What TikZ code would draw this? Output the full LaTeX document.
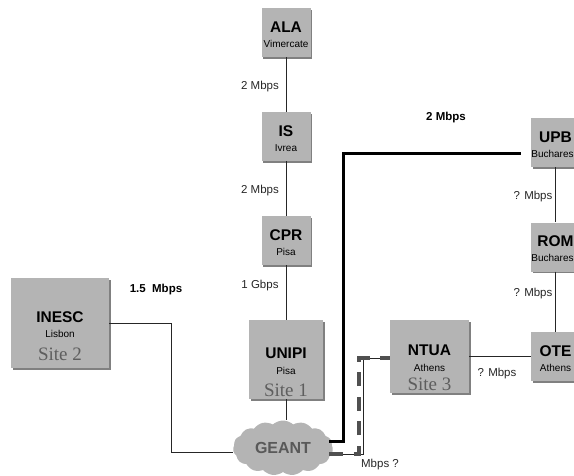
\documentclass[tikz,border=0pt]{standalone}
\usepackage{fontspec}
\setmainfont{Liberation Sans}
\newfontfamily\sitefont{Liberation Serif}
\usetikzlibrary{positioning,shadows,shapes.symbols,calc}
\definecolor{siteF}{HTML}{B4B4B4}
\definecolor{siteS}{HTML}{808080}
\definecolor{siteT}{HTML}{5E5E5E}
\definecolor{dashG}{HTML}{505050}
\tikzset{
 box/.style={fill=siteF, align=center, inner sep=0pt, text=black,
             drop shadow={opacity=1, fill=siteS, shadow xshift=1.5pt, shadow yshift=-1.5pt}},
 small/.style={box, minimum width=49pt, minimum height=49pt},
 big/.style={box, minimum width=75pt, minimum height=75pt},
 sitelbl/.style={inner sep=0pt, text=siteT, font=\sitefont\fontsize{19}{19}\selectfont},
 rate/.style={font=\fontsize{11.5}{13}\selectfont, inner sep=0pt, text=black!85},
 ratebold/.style={font=\fontsize{11.5}{13}\bfseries\selectfont, inner sep=0pt},
 lin/.style={line width=0.8pt, draw=black!85},
 thickline/.style={line width=3pt, draw=black},
 dashline/.style={line width=4pt, draw=dashG, dash pattern=on 14pt off 10.5pt},
}
\newcommand{\ttl}[1]{{\rule{0pt}{15pt}\fontsize{15.5}{17}\bfseries\selectfont #1}}
\newcommand{\plc}[1]{{\fontsize{10}{11}\selectfont #1}}
\begin{document}
\begin{tikzpicture}[x=1pt,y=-1pt]
\useasboundingbox (0,0) rectangle (574,475);
\clip (0,0) rectangle (574,475);
% backbone chain
\node[small] (ala) at (286,32.5) {\ttl{ALA}\\[3pt]\plc{Vimercate}};
\node[small] (is) at (286,136.5) {\ttl{IS}\\[3pt]\plc{Ivrea}};
\node[small] (cpr) at (286,240.5) {\ttl{CPR}\\[3pt]\plc{Pisa}};
\node[big, minimum width=74pt, minimum height=79pt] (unipi) at (286,359.5)
 {\ttl{UNIPI}\\[4pt]\plc{Pisa}};
\node[sitelbl, above=2.5pt of unipi.south] (site1) {Site 1};
% sites
\node[big, minimum width=98pt, minimum height=90pt] (inesc) at (60,323)
 {\ttl{INESC}\\[3pt]\plc{Lisbon}};
\node[sitelbl, above=7pt of inesc.south] (site2) {Site 2};
\node[big, minimum width=79pt, minimum height=73pt] (ntua) at (429.5,356.5)
 {\ttl{NTUA}\\[4pt]\plc{Athens}};
\node[sitelbl, above=2.5pt of ntua.south] (site3) {Site 3};
% right hand chain
\node[small] (upb) at (555.5,142.5) {\ttl{UPB}\\[3pt]\plc{Buchares\hspace*{6pt}}};
\node[small] (rom) at (555.5,247) {\ttl{ROM}\\[3pt]\plc{Buchares\hspace*{6pt}}};
\node[small] (ote) at (555.5,356.5) {\ttl{OTE}\\[3pt]\plc{Athens}};
% cloud
\node[cloud, cloud puffs=15, cloud puff arc=85, aspect=2.1, fill=siteF, inner sep=0pt,
 minimum width=100pt, minimum height=55pt, text=black!65,
 font=\fontsize{16}{17}\bfseries\selectfont] (geant) at (283,448) {GEANT};
% rates
\node[rate] (r1) at (260,87) {2 Mbps};
\node[rate] (r2) at (260,191) {2 Mbps};
\node[rate] (r3) at (260,286) {1 Gbps};
\node[ratebold] (r4) at (446,118) {2 Mbps};
\node[ratebold] (r5) at (156,290) {1.5\ \ Mbps};
\node[rate] (r6) at (533,197) {? Mbps};
\node[rate] (r7) at (533,294) {? Mbps};
\node[rate] (r8) at (497,374) {? Mbps};
\node[rate] (r9) at (380,465) {Mbps ?};
% coordinates
\coordinate (bendI) at (171,452);
\coordinate (gOutT) at (329,441);
\coordinate (bendT) at (343,153);
\coordinate (upbIn) at (521,153);
\coordinate (gOutD) at (329,454);
\coordinate (bendA) at (359,454);
\coordinate (bendB) at (359,358);
\coordinate (bendE) at (363.5,358);
% arrows
\draw[lin] (ala) -- (is);
\draw[lin] (is) -- (cpr);
\draw[lin] (cpr) -- (unipi);
\draw[lin] (unipi.south) -- (unipi.south |- geant.north);
\draw[lin] (upb) -- (rom);
\draw[lin] (rom) -- (ote);
\draw[lin] (ntua) -- (ote);
\draw[lin] (inesc.east) -| (bendI) -- (geant.west |- bendI);
\draw[thickline] (gOutT) -| (bendT) -- (upbIn);
\draw[lin] (gOutD) -| (bendE) -- (ntua.west |- bendE);
\draw[dashline] (gOutD) -- (bendA) -- (bendB) -- (ntua.west |- bendB);
\end{tikzpicture}
\end{document}
